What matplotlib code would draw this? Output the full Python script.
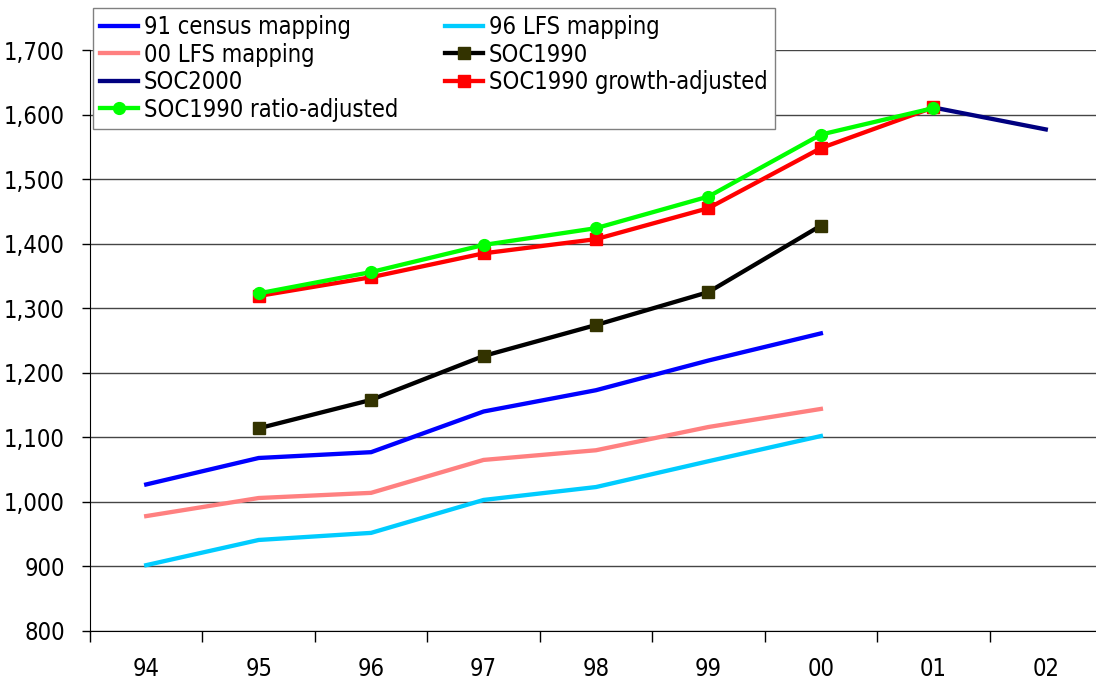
import matplotlib
matplotlib.use("Agg")
import matplotlib.pyplot as plt

plt.rcParams["font.family"] = ["DejaVu Sans"]
plt.rcParams["font.stretch"] = "condensed"

years = ["94", "95", "96", "97", "98", "99", "00", "01", "02"]

census91 = [1027, 1068, 1077, 1140, 1173, 1219, 1261, None, None]
lfs00 = [978, 1006, 1014, 1065, 1080, 1116, 1144, None, None]
lfs96 = [902, 941, 952, 1003, 1023, 1063, 1102, None, None]
soc1990 = [None, 1114, 1158, 1226, 1274, 1325, 1428, None, None]
soc2000 = [None, None, None, None, None, None, None, 1611, 1577]
growth_adj = [None, 1319, 1348, 1385, 1407, 1455, 1548, 1611, None]
ratio_adj = [None, 1323, 1356, 1398, 1424, 1473, 1569, 1610, None]

yticks = list(range(800, 1701, 100))


def pts(vals):
    xs = [i for i, v in enumerate(vals) if v is not None]
    ys = [v for v in vals if v is not None]
    return xs, ys


fig = plt.figure(figsize=(10.96, 6.81), dpi=100)
ax = fig.add_axes([90 / 1096, 1 - 631 / 681, 1012 / 1096, 581 / 681])

for y in yticks:
    ax.axhline(y, color="#454545", lw=1.0, zorder=1)

lw = 3.1
h1, = ax.plot(*pts(census91), color="#0000ff", lw=lw, label="91 census mapping", zorder=3)
h2, = ax.plot(*pts(lfs96), color="#00ccff", lw=lw, label="96 LFS mapping", zorder=3)
h3, = ax.plot(*pts(lfs00), color="#ff8080", lw=lw, label="00 LFS mapping", zorder=3)
h4, = ax.plot(*pts(soc1990), color="#000000", lw=lw, marker="s", ms=9,
              mfc="#333300", mec="#333300", label="SOC1990", zorder=3)
h5, = ax.plot(*pts(soc2000), color="#000080", lw=lw, label="SOC2000", zorder=3)
h6, = ax.plot(*pts(growth_adj), color="#ff0000", lw=lw, marker="s", ms=9,
              mfc="#ff0000", mec="#ff0000", label="SOC1990 growth-adjusted", zorder=4)
h7, = ax.plot(*pts(ratio_adj), color="#00ff00", lw=lw, marker="o", ms=8.5,
              mfc="#00ff00", mec="#00ff00", label="SOC1990 ratio-adjusted", zorder=5)

ax.set_xlim(-0.5, len(years) - 0.5)
ax.set_ylim(800, 1700)
ax.set_yticks(yticks)
ax.set_yticklabels([f"{v:,}" for v in yticks], fontsize=17)
ax.set_xticks(range(len(years)))
ax.set_xticklabels(years, fontsize=17)
ax.set_xticks([i + 0.5 for i in range(-1, len(years))], minor=True)
ax.tick_params(axis="x", which="major", length=0, pad=19)
ax.tick_params(axis="x", which="minor", length=8, width=1, color="black", direction="out")
ax.tick_params(axis="y", length=6, width=1, direction="out", pad=12)

for s in ("top", "right"):
    ax.spines[s].set_visible(False)
ax.spines["left"].set_color("black")
ax.spines["bottom"].set_color("black")

# two-column legend read row by row
handles = [h1, h3, h5, h7, h2, h4, h6]
leg = fig.legend(handles=handles, labels=[h.get_label() for h in handles], ncol=2,
                 loc="upper left", bbox_to_anchor=(93 / 1096, 1 - 8 / 681),
                 fontsize=17, frameon=True, fancybox=False, framealpha=1,
                 edgecolor="#808080", handlelength=1.6, handletextpad=0.25,
                 columnspacing=2.0, labelspacing=0.15, borderpad=0.3,
                 borderaxespad=0)
leg.get_frame().set_linewidth(1.0)
leg.set_zorder(10)

fig.savefig("out.png", dpi=100)
